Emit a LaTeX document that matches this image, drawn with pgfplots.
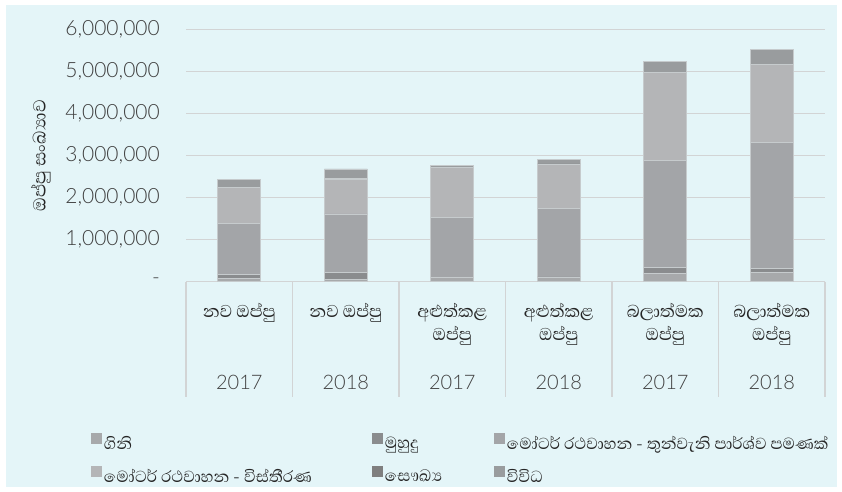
\documentclass[border=0pt]{standalone}
\usepackage{pgfplots}
\usepackage{pgfplotstable}
\pgfplotsset{compat=1.18}
\usepackage{fontspec}
\setmainfont{Lato}
\newfontfamily\sinfont[Script=Sinhala]{Abhaya Libre}
\IfFontExistsTF{Lato Light}{\newfontfamily\latol{Lato Light}}{\newfontfamily\latol{Lato}}
\definecolor{bg}{HTML}{E4F5F8}
\definecolor{gridc}{HTML}{D2D4D5}
\definecolor{cfire}{HTML}{A7A9AB}
\definecolor{cmarine}{HTML}{8A8C8E}
\definecolor{ctp}{HTML}{A3A5A8}
\definecolor{ccomp}{HTML}{B4B5B7}
\definecolor{chealth}{HTML}{7F7F7F}
\definecolor{cmisc}{HTML}{999C9E}
\definecolor{edgec}{HTML}{C6CBCD}
\definecolor{txt}{HTML}{404040}
\definecolor{stxt}{HTML}{262626}
\newcommand{\xl}[3]{{\fontsize{22}{23}\selectfont\begin{tabular}[t]{@{}c@{}}\sinfont\color{stxt} #1\\\sinfont\color{stxt} #2\\[26pt]{\latol\color{txt}\fontsize{20}{23}\selectfont #3}\end{tabular}}}
\pgfplotstableread{
x fire marine tp comp health misc
0 76000 100000 1210000 850000 10000 190000
1 50000 160000 1400000 830000 10000 230000
2 90000 15000 1420000 1190000 10000 45000
3 95000 15000 1630000 1050000 10000 110000
4 200000 140000 2550000 2080000 10000 250000
5 210000 110000 3000000 1840000 10000 360000
}\datatable
\begin{document}
\begin{tikzpicture}
\fill[white] (0,0) rectangle (842pt,491pt);
\fill[bg] (6pt,4pt) rectangle (837pt,486pt);
\begin{axis}[
  at={(186pt,209.5pt)}, anchor=south west,
  scale only axis, width=639pt, height=252pt,
  clip=false,
  ybar stacked, bar width=43pt,
  xmin=-0.5, xmax=5.5, ymin=0, ymax=6000000,
  scaled y ticks=false,
  xtick={0,1,2,3,4,5},
  xticklabels={
    {\xl{නව ඔප්පු}{}{2017}},
    {\xl{නව ඔප්පු}{}{2018}},
    {\xl{අළුත්කළ}{ඔප්පු}{2017}},
    {\xl{අළුත්කළ}{ඔප්පු}{2018}},
    {\xl{බලාත්මක}{ඔප්පු}{2017}},
    {\xl{බලාත්මක}{ඔප්පු}{2018}}},
  xticklabel style={anchor=north, inner sep=0pt, yshift=-20pt},
  ytick={0,1000000,2000000,3000000,4000000,5000000,6000000},
  yticklabels={{-\hspace{14pt}},{1,000,000},{2,000,000},{3,000,000},{4,000,000},{5,000,000},{6,000,000}},
  yticklabel style={anchor=east, inner sep=0pt, xshift=-26pt, font=\latol\fontsize{21}{21}\selectfont, text=txt},
  axis line style={draw=none}, tick style={draw=none},
  major tick length=0pt,
  ymajorgrids, grid style={color=gridc, line width=1.3pt},
  ylabel={\sinfont ඔප්පු සංඛ්‍යාව},
  ylabel style={at={(axis description cs:-0.227,0.5)}, anchor=center, font=\fontsize{22.5}{22.5}\selectfont, text=stxt},
  legend columns=3,
  legend cell align=left,
  legend image code/.code={\fill[#1,draw=none] (0pt,-1pt) rectangle (11pt,10pt);},
  legend style={at={(axis description cs:-0.1487,-0.603)}, anchor=north west,
    draw=none, fill=none, inner sep=0pt, outer sep=0pt,
    font=\sinfont\fontsize{20.5}{22}\selectfont, text=stxt,
    row sep=13.5pt, column sep=0pt,
    /tikz/every odd column/.append style={column sep=0pt},
    /tikz/every even column/.append style={column sep=0pt}},
  every axis plot/.append style={draw=edgec, line width=0.7pt},
]
\addplot[fill=cfire] table[x=x,y=fire]{\datatable};
\addlegendentry{\makebox[266pt][l]{ගිනි}}
\addplot[fill=cmarine] table[x=x,y=marine]{\datatable};
\addlegendentry{\makebox[107pt][l]{මුහුදු}}
\addplot[fill=ctp] table[x=x,y=tp]{\datatable};
\addlegendentry{මෝටර් රථවාහන - තුන්වැනි පාර්ශ්ව පමණක්}
\addplot[fill=ccomp] table[x=x,y=comp]{\datatable};
\addlegendentry{\makebox[266pt][l]{මෝටර් රථවාහන - විස්තීරණ}}
\addplot[fill=chealth] table[x=x,y=health]{\datatable};
\addlegendentry{\makebox[107pt][l]{සෞඛ්‍ය}}
\addplot[fill=cmisc] table[x=x,y=misc]{\datatable};
\addlegendentry{විවිධ}
\draw[gridc, line width=1.3pt] (axis cs:-0.5,0) -- (axis cs:5.5,0);
\pgfplotsinvokeforeach{-0.5,0.5,1.5,2.5,3.5,4.5,5.5}{
  \draw[gridc, line width=1.3pt] (axis cs:#1,0) -- ++(0pt,-115.5pt);
}
\end{axis}
\pgfresetboundingbox
\path[use as bounding box] (0,0) rectangle (842pt,491pt);
\end{tikzpicture}
\end{document}
